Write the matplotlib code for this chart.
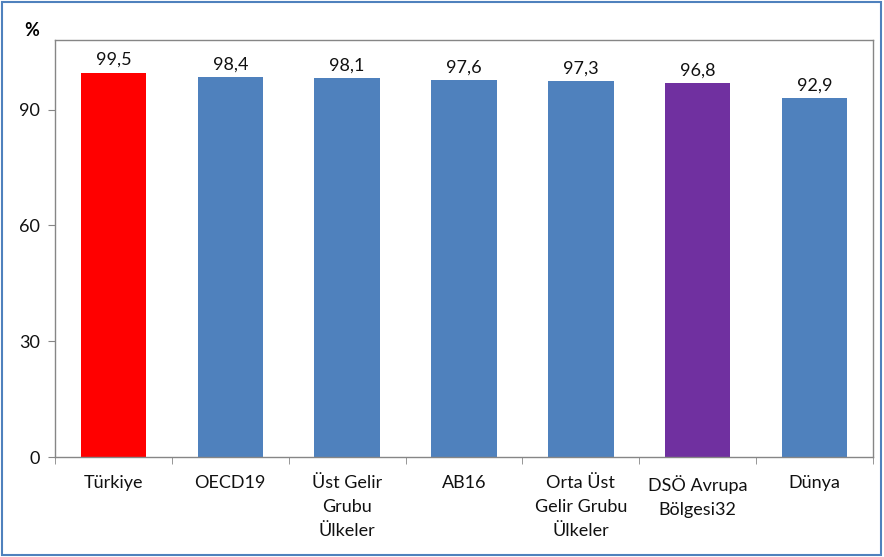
import matplotlib
matplotlib.use("Agg")
import matplotlib.pyplot as plt
import numpy as np

plt.rcParams['font.family'] = ['Lato', 'DejaVu Sans']

# veriler
categories = ["Türkiye", "OECD19", "Üst Gelir\nGrubu\nÜlkeler", "AB16",
              "Orta Üst\nGelir Grubu\nÜlkeler", "DSÖ Avrupa\nBölgesi32", "Dünya"]
values = [99.5, 98.4, 98.1, 97.6, 97.3, 96.8, 92.9]
value_labels = ["99,5", "98,4", "98,1", "97,6", "97,3", "96,8", "92,9"]
colors = ["#FF0000", "#4F81BD", "#4F81BD", "#4F81BD", "#4F81BD", "#7030A0", "#4F81BD"]
yticks = [0, 30, 60, 90]

fs = 13

fig = plt.figure(figsize=(8.84, 5.57), dpi=100)
ax = fig.add_axes([0.0622, 0.1795, 0.9254, 0.7485])

x = np.arange(len(categories))
ax.bar(x, values, width=0.56, color=colors)

for xi, v, lab in zip(x, values, value_labels):
    ax.text(xi, v + 1.3, lab, ha='center', va='bottom', fontsize=fs, color='#111111')

ax.set_xlim(-0.5, len(categories) - 0.5)
ax.set_ylim(0, 108)
ax.set_yticks(yticks)
ax.set_yticklabels([str(t) for t in yticks], fontsize=fs, color='#111111')
ax.set_xticks(x)
ax.set_xticklabels(categories, fontsize=fs, va='top', linespacing=1.6, color='#111111')
ax.tick_params(axis='x', length=0, pad=13)
ax.set_xticks(np.arange(-0.5, len(categories)), minor=True)
ax.tick_params(axis='x', which='minor', length=5, color='#868686', direction='out')
ax.tick_params(axis='y', length=5, color='#868686', direction='out', pad=6)

for s in ax.spines.values():
    s.set_color('#868686')
    s.set_linewidth(1.0)

fig.text(24 / 884, 1 - 30 / 557, "%", fontsize=fs, fontweight='bold', ha='left', va='center')

# dış çerçeve
fig.patches.append(plt.Rectangle((0.002, 0.003), 0.995, 0.994, transform=fig.transFigure,
                                 fill=False, edgecolor='#4F81BD', linewidth=1.5))

fig.savefig("out.png", dpi=100)
